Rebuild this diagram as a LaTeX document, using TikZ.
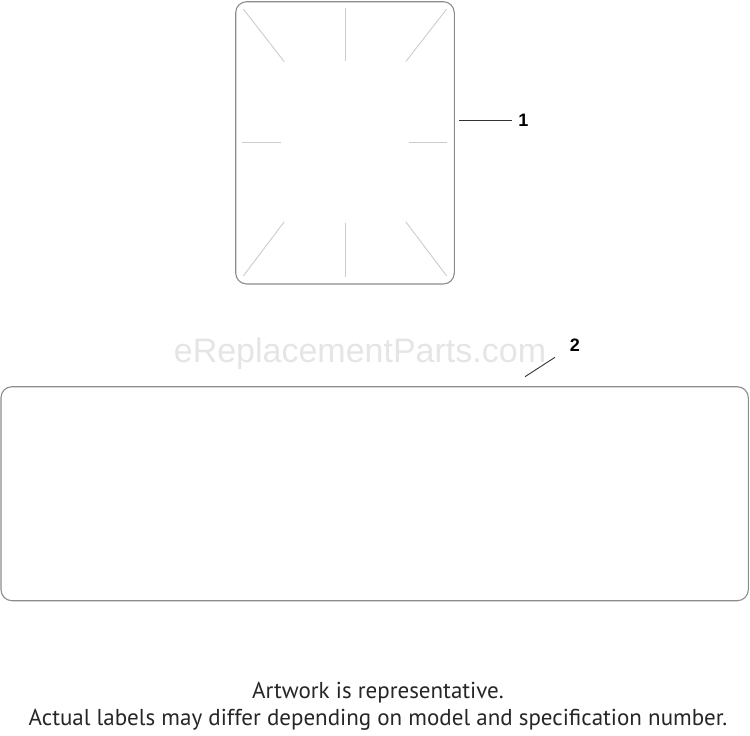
\documentclass[tikz,border=0pt]{standalone}
\usepackage{fontspec}
\setmainfont{PT Sans}
\newfontfamily\numfont{Liberation Sans}
\newfontfamily\wmfont{Liberation Sans}
\begin{document}
\begin{tikzpicture}[x=1pt,y=-1pt,
  decal/.style={draw=black!45, line width=1.1pt, rounded corners=11pt, inner sep=0pt},
  guide/.style={draw=black!20, line width=0.9pt},
  leader/.style={draw=black!80, line width=0.9pt},
  callout/.style={font=\numfont\bfseries\fontsize{18}{20}\selectfont, inner sep=0pt},
  note/.style={font=\fontsize{23}{27}\selectfont, align=center, inner sep=0pt, text=black!85}]
\useasboundingbox (0,0) rectangle (750,736);
% part 1
\node[decal, minimum width=218.6pt, minimum height=282.3pt] (p1) at (345,142.85) {};
\draw[guide] (243.3,9) -- (284.3,61.7);
\draw[guide] (345,8.3) -- (345,60.7);
\draw[guide] (446.7,9) -- (405.7,61.7);
\draw[guide] (242.3,142.3) -- (281,142.3);
\draw[guide] (409.3,142.3) -- (447.3,142.3);
\draw[guide] (284.3,221.7) -- (243.3,276);
\draw[guide] (345,222.7) -- (345,276.7);
\draw[guide] (405.7,221.7) -- (446.7,276);
\node[callout] (n1) at (523.5,120) {1};
\coordinate (l1s) at (459.3,120.5);
\draw[leader] (l1s) -- ([xshift=-6pt]l1s -| n1.west);
% watermark
\node[font=\wmfont\fontsize{34}{34}\selectfont, text=black!10, inner sep=0pt] (wm) at (360,354) {eReplacementParts.com};
% part 2
\node[decal, minimum width=747.3pt, minimum height=214pt] (p2) at (374.65,493.7) {};
\node[callout] (n2) at (575,345) {2};
\coordinate (l2s) at (525,376.7);
\coordinate (l2e) at (555,357.3);
\draw[leader] (l2s) -- (l2e);
% note
\node[note] (txt) at (378,706) {Artwork is representative.\\Actual labels may differ depending on model and specification number.};
\end{tikzpicture}
\end{document}
